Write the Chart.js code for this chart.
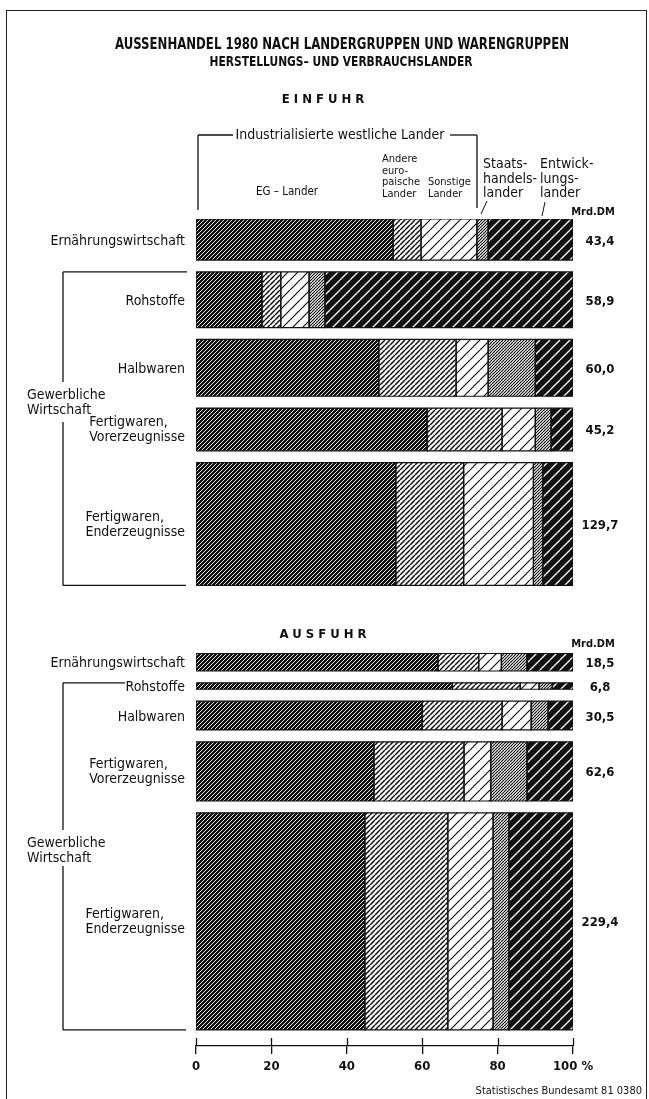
<!DOCTYPE html>
<html lang="de">
<head>
<meta charset="UTF-8">
<title>Aussenhandel 1980 nach Ländergruppen und Warengruppen</title>
<script src="https://cdn.jsdelivr.net/npm/chart.js"></script>
<style>
  * { margin: 0; padding: 0; box-sizing: border-box; }
  body {
    width: 649px; height: 1099px; position: relative; overflow: hidden;
    background: #fff; color: #111;
    font-family: "Liberation Sans Narrow", "DejaVu Sans Condensed", "Roboto Condensed", sans-serif;
  }
  .frame { position: absolute; left: 6px; top: 10px; width: 641px; height: 1100px; border: 1.5px solid #222; border-bottom: none; }
  canvas { position: absolute; left: 0; top: 0; }
  svg { position: absolute; left: 0; top: 0; }
  .t { position: absolute; white-space: nowrap; line-height: 1; }
  .title { font-size: 15px; font-weight: bold; }
  .sub { font-size: 13.5px; font-weight: bold; }
  .panel { font-size: 13px; font-weight: bold; letter-spacing: 4px; }
  .col { font-size: 11px; line-height: 11.7px; white-space: pre; }
  .colbig { font-size: 14px; line-height: 14.5px; white-space: pre; }
  .lbl { font-size: 14px; line-height: 15px; white-space: pre; }
  .val { font-size: 13px; font-weight: bold; }
  .unit { font-size: 11px; font-weight: bold; }
</style>
</head>
<body>
<div class="frame"></div>
<canvas id="c" width="649" height="1099"></canvas>
<svg id="lines" width="649" height="1099"></svg>
<div id="texts"></div>
<script>
// Warengruppen (rows) and Ländergruppen (segments)
const waren = ['Ernährungswirtschaft', 'Rohstoffe', 'Halbwaren', 'Fertigwaren,\nVorerzeugnisse', 'Fertigwaren,\nEnderzeugnisse'];
const laender = ['EG-Länder', 'Andere europäische Länder', 'Sonstige Länder', 'Staatshandelsländer', 'Entwicklungsländer'];

// Mrd. DM per row (bar thickness)
const einfuhrMrd = [43.4, 58.9, 60.0, 45.2, 129.7];
const ausfuhrMrd = [18.5, 6.8, 30.5, 62.6, 229.4];

// shares in % per Ländergruppe, Einfuhr
const einfuhrEG       = [52.3, 17.5, 48.5, 61.3, 53.0];
const einfuhrAndere   = [7.4, 5.0, 20.5, 19.9, 18.0];
const einfuhrSonstige = [14.8, 7.5, 8.5, 8.8, 18.5];
const einfuhrStaats   = [3.0, 4.2, 12.5, 4.2, 2.5];
const einfuhrEntw     = [22.5, 65.8, 10.0, 5.8, 8.0];

// shares in % per Ländergruppe, Ausfuhr
const ausfuhrEG       = [64.2, 68.0, 60.0, 47.2, 44.8];
const ausfuhrAndere   = [10.8, 18.0, 21.2, 23.9, 22.0];
const ausfuhrSonstige = [6.0, 5.0, 7.7, 7.1, 12.0];
const ausfuhrStaats   = [6.8, 3.5, 4.5, 9.6, 4.2];
const ausfuhrEntw     = [12.2, 5.5, 6.6, 12.2, 17.0];

const xTicks = [0, 20, 40, 60, 80, 100];

// spacing in Mrd. DM units along the y scale
const ROW_GAP = 12.5, PANEL_GAP = 72, AXIS_GAP = 17;

const canvas = document.getElementById('c');
const ctx = canvas.getContext('2d');

function hatch(bg, fg, period, width) {
  const tile = document.createElement('canvas');
  tile.width = tile.height = period;
  const g = tile.getContext('2d');
  g.fillStyle = bg;
  g.fillRect(0, 0, period, period);
  g.strokeStyle = fg;
  g.lineWidth = width;
  g.beginPath();
  for (let k = -1; k <= 1; k++) {
    g.moveTo(k * period, period);
    g.lineTo(k * period + period, 0);
  }
  g.stroke();
  return ctx.createPattern(tile, 'repeat');
}

const patterns = [
  hatch('#111', '#fff', 4, 0.9),   // EG
  hatch('#fff', '#111', 5, 1.5),   // andere europ.
  hatch('#fff', '#111', 10, 1.2),  // sonstige
  hatch('#fff', '#111', 3, 1.2),   // Staatshandel
  hatch('#111', '#fff', 10, 1.3)   // Entwicklung
];

function layoutRows(mrd, start) {
  const rows = [];
  let cur = start;
  mrd.forEach(v => {
    rows.push({ top: cur, bottom: cur + v });
    cur += v + ROW_GAP;
  });
  return rows;
}

const einRows = layoutRows(einfuhrMrd, 0);
const ausRows = layoutRows(ausfuhrMrd, einRows[4].bottom + PANEL_GAP);
const yMax = ausRows[4].bottom + AXIS_GAP;

function panelDatasets(rows, shares) {
  const out = [];
  rows.forEach((r, i) => {
    let x0 = 0;
    shares.forEach((arr, g) => {
      const x1 = x0 + arr[i];
      out.push({
        data: [{ x: x0, y: r.top }, { x: x1, y: r.top }],
        fill: { value: r.bottom },
        backgroundColor: patterns[g],
        borderWidth: 0, pointRadius: 0, order: 1
      });
      out.push({
        data: [{ x: x0, y: r.top }, { x: x1, y: r.top }, { x: x1, y: r.bottom }, { x: x0, y: r.bottom }, { x: x0, y: r.top }],
        fill: false, borderColor: '#111', borderWidth: 1.2, pointRadius: 0, order: 0
      });
      x0 = x1;
    });
  });
  return out;
}

const datasets = [
  ...panelDatasets(einRows, [einfuhrEG, einfuhrAndere, einfuhrSonstige, einfuhrStaats, einfuhrEntw]),
  ...panelDatasets(ausRows, [ausfuhrEG, ausfuhrAndere, ausfuhrSonstige, ausfuhrStaats, ausfuhrEntw])
];

const FONT = '"Liberation Sans Narrow", "DejaVu Sans Condensed", sans-serif';

// short tick marks above the axis line
const upTicks = {
  id: 'upTicks',
  afterDraw(chart) {
    const x = chart.scales.x, c = chart.ctx, y0 = chart.chartArea.bottom;
    c.save();
    c.strokeStyle = '#111';
    c.lineWidth = 1.3;
    xTicks.forEach(v => {
      const px = Math.round(x.getPixelForValue(v)) + 0.5;
      c.beginPath();
      c.moveTo(px, y0);
      c.lineTo(px, y0 - 8);
      c.stroke();
    });
    c.restore();
  }
};

const chart = new Chart(ctx, {
  type: 'line',
  data: { datasets },
  options: {
    responsive: false,
    animation: false,
    devicePixelRatio: 1,
    events: [],
    layout: { padding: { left: 196, right: 76, top: 219, bottom: 17 } },
    plugins: { legend: { display: false }, tooltip: { enabled: false } },
    scales: {
      x: {
        type: 'linear', min: 0, max: 100,
        afterBuildTicks: s => { s.ticks = xTicks.map(v => ({ value: v })); },
        afterFit: s => { s.height = 36; },
        ticks: {
          color: '#111', padding: 5,
          font: { family: FONT, size: 13, weight: 'bold' },
          callback: v => v === 100 ? '100 %' : String(v)
        },
        grid: { drawOnChartArea: false, drawTicks: true, tickLength: 8, color: '#111', lineWidth: 1.3 },
        border: { display: true, color: '#111', width: 1.3 }
      },
      y: { type: 'linear', display: false, reverse: true, min: 0, max: yMax }
    }
  },
  plugins: [upTicks]
});

// ---- text and brackets ----
const texts = document.getElementById('texts');
function put(text, x, y, cls, align, sx) {
  const d = document.createElement('div');
  d.className = 't ' + cls;
  d.textContent = text;
  d.style.left = x + 'px';
  d.style.top = y + 'px';
  const tx = align === 'r' ? '-100%' : align === 'c' ? '-50%' : '0';
  d.style.transform = 'translate(' + tx + ',-50%)' + (sx ? ' scaleX(' + sx + ')' : '');
  texts.appendChild(d);
  return d;
}

put('AUSSENHANDEL 1980 NACH LANDERGRUPPEN UND WARENGRUPPEN', 342, 44, 'title', 'c', 0.87);
put('HERSTELLUNGS– UND VERBRAUCHSLANDER', 341, 62, 'sub', 'c', 0.88);
put('EINFUHR', 325, 98, 'panel', 'c');
put('AUSFUHR', 325, 633, 'panel', 'c');

put('Industrialisierte westliche Lander', 340, 135, 'col', 'c').style.fontSize = '14px';
put('EG – Lander', 287, 192, 'col', 'c').style.fontSize = '11.5px';
put('Andere\neuro-\npaische\nLander', 382, 176, 'col', 'l');
put('Sonstige\nLander', 428, 188, 'col', 'l');
put('Staats-\nhandels-\nlander', 483, 178, 'colbig', 'l');
put('Entwick-\nlungs-\nlander', 540, 178, 'colbig', 'l');

const ys = chart.scales.y;
const px = v => ys.getPixelForValue(v);

function panelLabels(rows, mrd, unitY) {
  rows.forEach((r, i) => {
    const cy = (px(r.top) + px(r.bottom)) / 2;
    put(waren[i], 185, cy, 'lbl', 'r').style.textAlign = 'left';
    put(mrd[i].toFixed(1).replace('.', ','), 600, cy, 'val', 'c');
  });
  put('Mrd.DM', 593, unitY, 'unit', 'c');
}
panelLabels(einRows, einfuhrMrd, 211);
panelLabels(ausRows, ausfuhrMrd, 643);

put('Gewerbliche\nWirtschaft', 27, 402, 'lbl', 'l');
put('Gewerbliche\nWirtschaft', 27, 850, 'lbl', 'l');
put('Statistisches Bundesamt 81 0380', 642, 1091, 'col', 'r');

// brackets
const svg = document.getElementById('lines');
function line(x1, y1, x2, y2, w) {
  const l = document.createElementNS('http://www.w3.org/2000/svg', 'line');
  l.setAttribute('x1', x1); l.setAttribute('y1', y1);
  l.setAttribute('x2', x2); l.setAttribute('y2', y2);
  l.setAttribute('stroke', '#111');
  l.setAttribute('stroke-width', w || 1.3);
  svg.appendChild(l);
}
// Industrialisierte westliche Länder bracket
line(198, 135, 233, 135); line(450, 135, 477, 135);
line(198, 135, 198, 210); line(477, 135, 477, 208);
// leader lines
line(487, 201, 481, 214, 1); line(545, 202, 542, 216, 1);

// Gewerbliche Wirtschaft brackets
function gBracket(rows, gapTop, gapBot, topEnd) {
  const t = px(rows[1].top), b = px(rows[4].bottom);
  line(63, t, topEnd, t);
  line(63, t, 63, gapTop);
  line(63, gapBot, 63, b);
  line(63, b, 186, b);
}
gBracket(einRows, 382, 422, 187);
gBracket(ausRows, 830, 866, 125);
</script>
</body>
</html>
